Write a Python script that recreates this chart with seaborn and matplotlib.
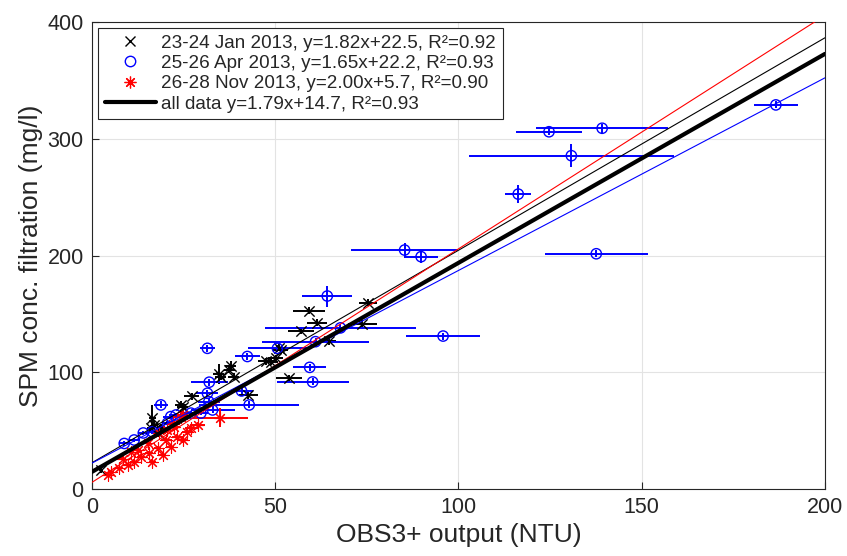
import matplotlib

matplotlib.use("Agg")

import matplotlib.pyplot as plt
from matplotlib.lines import Line2D
import pandas as pd
import seaborn as sns

# 23-24 Jan 2013 (black x)
jan_x = [75.3, 59.2, 61.5, 57.0, 73.8, 64.7, 51.0, 50.1, 48.8, 53.8, 42.7, 37.9,
         38.7, 34.6, 16.5, 17.0, 24.2, 27.2, 18.8, 2.5, 47.4, 37.4, 35.1, 24.7,
         17.9, 16.0, 51.5]
jan_y = [159.6, 152.7, 142.5, 135.5, 141.5, 126.5, 121.0, 112.0, 109.0, 94.8, 80.5, 105.5,
         96.0, 98.5, 61.0, 55.0, 72.0, 79.5, 53.0, 16.0, 109.5, 102.0, 96.0, 70.5,
         47.6, 52.0, 119.0]
jan_xerr = [2.5, 4.3, 2.7, 3.6, 4.0, 2.0, 2.0, 2.0, 2.0, 3.6, 2.5, 1.5,
            1.5, 1.5, 1.0, 1.0, 1.5, 2.0, 1.0, 0.5, 2.0, 1.5, 1.5, 1.5,
            1.0, 1.0, 2.0]
jan_yerr = [3.0, 3.0, 3.0, 3.0, 3.0, 3.0, 3.0, 3.0, 3.0, 3.0, 3.0, 4.0,
            3.0, 8.5, 11.0, 4.0, 3.0, 3.0, 3.0, 2.0, 3.0, 3.0, 3.0, 3.0,
            3.0, 3.0, 3.0]

# 25-26 Apr 2013 (blue o)
apr_x = [186.6, 124.7, 139.2, 130.8, 116.3, 137.6, 85.3, 89.8, 64.2, 95.8, 67.8, 61.0,
         50.6, 42.4, 59.4, 60.2, 42.9, 40.8, 31.5, 32.0, 31.5, 31.9, 32.9, 18.8,
         14.0, 11.5, 8.8, 21.5, 22.9, 29.7, 27.0, 20.6, 16.5]
apr_y = [329.0, 306.0, 309.0, 285.5, 252.6, 201.5, 204.7, 199.0, 165.3, 131.0, 138.0, 126.2,
         120.5, 113.5, 104.2, 91.7, 72.0, 84.0, 120.5, 91.5, 82.0, 74.8, 67.7, 72.0,
         48.0, 42.0, 39.0, 62.0, 63.4, 65.0, 65.0, 56.5, 49.0]
apr_xerr = [6.0, 9.0, 18.0, 28.0, 3.5, 14.0, 14.5, 4.7, 6.8, 10.0, 20.6, 14.5,
            8.0, 3.5, 4.5, 9.8, 13.6, 3.0, 2.0, 5.0, 3.0, 3.0, 6.0, 2.0,
            1.5, 1.5, 1.5, 2.0, 2.0, 2.0, 2.0, 1.5, 1.5]
apr_yerr = [3.0, 3.0, 4.0, 10.0, 8.0, 3.0, 6.0, 5.0, 9.0, 3.0, 3.0, 3.0,
            3.0, 3.0, 3.0, 3.0, 3.0, 3.0, 3.0, 3.0, 3.0, 3.0, 3.0, 3.0,
            2.0, 2.0, 2.0, 2.0, 2.0, 2.0, 2.0, 2.0, 2.0]

# 26-28 Nov 2013 (red *)
nov_x = [35.0, 28.8, 26.0, 24.2, 22.0, 23.3, 20.2, 17.9, 15.6, 13.4, 11.5, 9.7,
         7.4, 5.2, 4.3, 12.5, 15.2, 18.3, 20.6, 22.4, 19.3, 10.6, 8.4, 16.5,
         21.5, 24.7, 27.0, 24.7]
nov_y = [61.0, 54.8, 49.0, 62.0, 56.0, 44.8, 42.0, 34.8, 30.5, 27.7, 23.4, 20.5,
         17.7, 14.8, 12.0, 33.4, 39.0, 47.6, 50.5, 53.4, 29.0, 32.0, 26.0, 23.4,
         36.2, 42.0, 52.0, 63.4]
nov_xerr = [7.5, 2.0, 1.5, 2.0, 1.5, 1.5, 1.5, 1.0, 1.0, 1.0, 1.0, 1.0,
            1.0, 0.8, 0.8, 1.0, 1.0, 1.0, 1.0, 1.5, 1.0, 1.0, 1.0, 1.0,
            1.0, 1.5, 1.5, 1.5]
nov_yerr = [8.0, 3.0, 2.5, 3.0, 2.5, 2.5, 2.5, 2.0, 2.0, 2.0, 2.0, 2.0,
            1.5, 1.5, 1.5, 2.0, 2.0, 2.0, 2.0, 2.5, 2.0, 2.0, 2.0, 2.0,
            2.0, 2.5, 2.5, 3.0]

fit_names = ["jan", "apr", "nov", "all"]
fit_slopes = [1.82, 1.65, 2.00, 1.79]
fit_intercepts = [22.5, 22.2, 5.7, 14.7]
fit_range = [0, 200]

legend_labels = [
    "23-24 Jan 2013, y=1.82x+22.5, R²=0.92",
    "25-26 Apr 2013, y=1.65x+22.2, R²=0.93",
    "26-28 Nov 2013, y=2.00x+5.7, R²=0.90",
    "all data y=1.79x+14.7, R²=0.93",
]

sns.set_style("ticks")
plt.rcParams["font.family"] = ["Liberation Sans", "DejaVu Sans"]

fig = plt.figure(figsize=(8.47, 5.56), dpi=100)
ax = fig.add_axes([0.1086, 0.1205, 0.8654, 0.8399])

asterisk = (8, 2, 0)
series = [
    (jan_x, jan_y, jan_xerr, jan_yerr, "black", "x"),
    (apr_x, apr_y, apr_xerr, apr_yerr, "blue", "o"),
    (nov_x, nov_y, nov_xerr, nov_yerr, "red", asterisk),
]
for xs, ys, xe, ye, col, mk in series:
    ax.errorbar(xs, ys, xerr=xe, yerr=ye, fmt="none", ecolor=col,
                elinewidth=1.4, capsize=0, zorder=2)
    df = pd.DataFrame({"x": xs, "y": ys})
    if mk == "o":
        sns.scatterplot(data=df, x="x", y="y", ax=ax, marker="o", s=55,
                        facecolor="none", edgecolor=col, linewidth=1.0, zorder=3)
    elif mk == "x":
        sns.scatterplot(data=df, x="x", y="y", ax=ax, marker=mk, s=55,
                        color=col, linewidth=1.0, zorder=3)
    else:
        sns.scatterplot(data=df, x="x", y="y", ax=ax, marker=mk, s=70,
                        color=col, linewidth=0.8, zorder=3)

fit_colors = {"jan": "black", "apr": "blue", "nov": "red", "all": "black"}
fit_widths = {"jan": 0.8, "apr": 0.8, "nov": 0.8, "all": 3.0}
for name, a, b in zip(fit_names, fit_slopes, fit_intercepts):
    fdf = pd.DataFrame({"x": fit_range, "y": [a * v + b for v in fit_range]})
    sns.lineplot(data=fdf, x="x", y="y", ax=ax, color=fit_colors[name],
                 linewidth=fit_widths[name], zorder=4)

ax.set_xlim(0, 200)
ax.set_ylim(0, 400)
ax.set_xticks([0, 50, 100, 150, 200])
ax.set_yticks([0, 100, 200, 300, 400])
ax.grid(True, color="#e3e3e3", linewidth=0.8)
ax.set_axisbelow(True)
ax.tick_params(direction="in", length=5, width=0.8, labelsize=15.5, colors="#262626",
               top=False, right=False, pad=6)
for sp in ax.spines.values():
    sp.set_color("#262626")
    sp.set_linewidth(0.8)
ax.set_xlabel("OBS3+ output (NTU)", fontsize=19, color="#262626", labelpad=3)
ax.set_ylabel("SPM conc. filtration (mg/l)", fontsize=19, color="#262626", labelpad=3)

handles = [
    Line2D([], [], linestyle="none", marker="x", color="black", markersize=7, markeredgewidth=1.0),
    Line2D([], [], linestyle="none", marker="o", markerfacecolor="none", markeredgecolor="blue",
           markersize=7.5, markeredgewidth=1.0),
    Line2D([], [], linestyle="none", marker=asterisk, color="red", markersize=8.5, markeredgewidth=0.9),
    Line2D([], [], color="black", linewidth=3.0),
]
leg = ax.legend(handles, legend_labels, loc="upper left",
                bbox_to_anchor=(98 / 847, 1 - 28 / 556), bbox_transform=fig.transFigure,
                borderaxespad=0, fontsize=13.6, frameon=True, fancybox=False,
                framealpha=1, edgecolor="#262626", handlelength=2.7, handletextpad=0.3,
                labelspacing=0.16, borderpad=0.35)
leg.get_frame().set_linewidth(0.8)

fig.savefig("out.png", dpi=100)
